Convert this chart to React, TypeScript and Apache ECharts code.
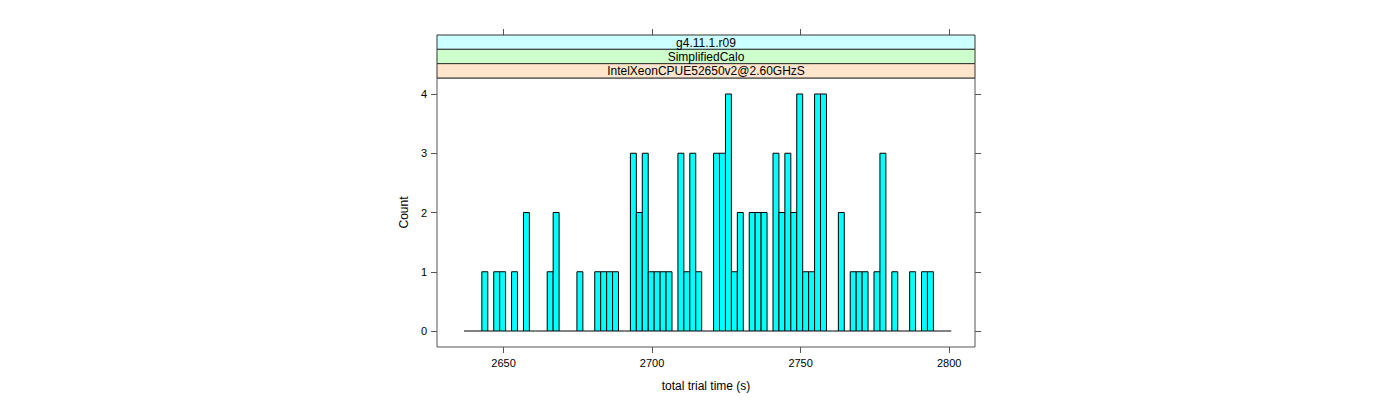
import React, { useEffect, useRef } from "react";
import * as echarts from "echarts";

// Histogram bins (width 2 s) starting at binStart; counts
const binStart = 2636.7;
const binWidth = 2;
const counts = [
  0, 0, 0, 1, 0, 1, 1, 0, 1, 0,
  2, 0, 0, 0, 1, 2, 0, 0, 0, 1,
  0, 0, 1, 1, 1, 1, 0, 0, 3, 2,
  3, 1, 1, 1, 1, 0, 3, 1, 3, 1,
  0, 0, 3, 3, 4, 1, 2, 0, 2, 2,
  2, 0, 3, 2, 3, 2, 4, 1, 1, 4,
  4, 0, 0, 2, 0, 1, 1, 1, 0, 1,
  3, 0, 1, 0, 0, 1, 0, 1, 1, 0,
  0, 0,
];
const xTicks = [2650, 2700, 2750, 2800];
const yTicks = [0, 1, 2, 3, 4];
const stripLabels = ["g4.11.1.r09", "SimplifiedCalo", "IntelXeonCPUE52650v2@2.60GHzS"];
const stripColors = ["#ccffff", "#ccffcc", "#ffe5cc"];
const xLabel = "total trial time (s)";
const yLabel = "Count";

const X_MIN = 2627.6;
const X_MAX = 2808.7;
const Y_MIN = -0.27;
const Y_MAX = 4.27;

export default function App() {
  const ref = useRef<HTMLDivElement>(null);
  useEffect(() => {
    if (!ref.current) return;
    const chart = echarts.init(ref.current, undefined, { renderer: "svg" });
    const font = "Liberation Sans";
    const axisColor = "#555";
    const L = 437, R = 975, T = 78, B = 347;
    const stripTop = 35, stripH = (T - stripTop) / 3;

    const data = counts.map((c, i) => [binStart + i * binWidth, binStart + (i + 1) * binWidth, c]);

    const strips: any[] = [];
    stripLabels.forEach((lab, i) => {
      const y = stripTop + i * stripH;
      strips.push({
        type: "rect",
        shape: { x: L, y, width: R - L, height: stripH },
        style: { fill: stripColors[i], stroke: "#333", lineWidth: 1 },
        z: 10,
      });
      strips.push({
        type: "text",
        x: (L + R) / 2,
        y: y + stripH / 2 + 0.5,
        style: { text: lab, fill: "#000", font: `12px "${font}"`, align: "center", verticalAlign: "middle" },
        z: 11,
      });
    });

    const fmt = (v: number) => String(v);

    chart.setOption({
      animation: false,
      grid: [
        { left: L, top: T, width: R - L, height: B - T, show: true, borderColor: axisColor, borderWidth: 1, backgroundColor: "transparent" },
        { left: L, top: stripTop, width: R - L, height: B - stripTop, show: false },
      ],
      xAxis: [
        {
          type: "value", gridIndex: 0, min: X_MIN, max: X_MAX, position: "bottom",
          name: xLabel, nameLocation: "middle", nameGap: 33,
          nameTextStyle: { fontFamily: font, fontSize: 12, color: "#000" },
          axisLine: { show: false, onZero: false },
          axisTick: { show: true, length: 6, inside: false, lineStyle: { color: axisColor }, customValues: xTicks },
          axisLabel: { show: true, fontFamily: font, fontSize: 11, color: "#000", margin: 10, customValues: xTicks, formatter: fmt },
          splitLine: { show: false },
        },
        {
          type: "value", gridIndex: 1, min: X_MIN, max: X_MAX, position: "top",
          axisLine: { show: false, onZero: false },
          axisTick: { show: true, length: 6, inside: false, lineStyle: { color: axisColor }, customValues: xTicks },
          axisLabel: { show: false },
          splitLine: { show: false },
        },
      ],
      yAxis: [
        {
          type: "value", gridIndex: 0, min: Y_MIN, max: Y_MAX, position: "left",
          name: yLabel, nameLocation: "middle", nameGap: 27, nameRotate: 90,
          nameTextStyle: { fontFamily: font, fontSize: 12, color: "#000" },
          axisLine: { show: false, onZero: false },
          axisTick: { show: true, length: 6, inside: false, lineStyle: { color: axisColor }, customValues: yTicks },
          axisLabel: { show: true, fontFamily: font, fontSize: 11, color: "#000", margin: 10, customValues: yTicks, formatter: fmt },
          splitLine: { show: false },
        },
        {
          type: "value", gridIndex: 0, min: Y_MIN, max: Y_MAX, position: "right",
          axisLine: { show: false, onZero: false },
          axisTick: { show: true, length: 6, inside: false, lineStyle: { color: axisColor }, customValues: yTicks },
          axisLabel: { show: false },
          splitLine: { show: false },
        },
        {
          type: "value", gridIndex: 1, min: 0, max: 1, show: false,
          axisLine: { show: false, onZero: false },
        },
      ],
      graphic: strips,
      series: [
        {
          type: "custom",
          xAxisIndex: 0,
          yAxisIndex: 0,
          clip: false,
          encode: { x: [0, 1], y: 2 },
          data,
          renderItem: (params: any, api: any) => {
            const s = api.value(0), e = api.value(1), c = api.value(2);
            const p0 = api.coord([s, c]);
            const p1 = api.coord([e, 0]);
            if (c === 0) {
              return {
                type: "line",
                shape: { x1: p0[0], y1: p1[1], x2: p1[0], y2: p1[1] },
                style: { stroke: "#000", lineWidth: 1 },
              };
            }
            return {
              type: "rect",
              shape: { x: p0[0], y: p0[1], width: p1[0] - p0[0], height: p1[1] - p0[1] },
              style: { fill: "#00ffff", stroke: "#000", lineWidth: 1 },
            };
          },
        },
      ],
    });
    return () => chart.dispose();
  }, []);
  return <div ref={ref} style={{ position: "fixed", left: 0, top: 0, width: 1400, height: 400, background: "#fff" }} />;
}
